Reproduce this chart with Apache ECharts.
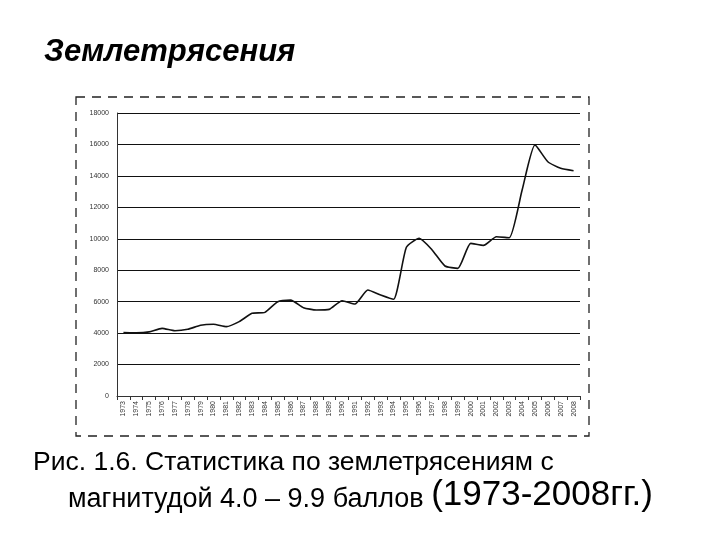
<!DOCTYPE html>
<html><head><meta charset="utf-8">
<script src="https://cdn.jsdelivr.net/npm/echarts@6/dist/echarts.min.js"></script>
<style>html,body{margin:0;padding:0;background:#fff}#c{width:720px;height:540px}</style>
</head><body><div id="c"></div>
<script>
const years = ['1973','1974','1975','1976','1977','1978','1979','1980','1981','1982','1983','1984','1985','1986','1987','1988','1989','1990','1991','1992','1993','1994','1995','1996','1997','1998','1999','2000','2001','2002','2003','2004','2005','2006','2007','2008'];
const quakes = [4030,4020,4080,4300,4150,4240,4500,4560,4410,4730,5260,5320,6000,6100,5620,5470,5510,6060,5850,6740,6420,6150,9460,10030,9290,8270,8120,9710,9580,10130,10070,13100,15970,14900,14480,14330];
const yTicks = [0,2000,4000,6000,8000,10000,12000,14000,16000,18000];

const chart = echarts.init(document.getElementById('c'), null, {renderer:'canvas'});
chart.setOption({
  backgroundColor:'#fff',
  animation:false,
  grid:{left:117,right:140,top:113,bottom:144},
  xAxis:{type:'category',data:years,boundaryGap:true,
    axisLine:{lineStyle:{color:'#333',width:1}},
    axisTick:{show:true,length:4,lineStyle:{color:'#333'}},
    axisLabel:{rotate:90,fontSize:7,color:'#333',fontFamily:'Liberation Sans',margin:5}},
  yAxis:{type:'value',min:yTicks[0],max:yTicks[yTicks.length-1],interval:2000,
    axisLine:{show:true,lineStyle:{color:'#333',width:1}},
    axisTick:{show:false},
    axisLabel:{fontSize:7,color:'#333',fontFamily:'Liberation Sans',margin:8,formatter:function(v){return String(v);}},
    splitLine:{lineStyle:{color:'#111',width:1}}},
  series:[{type:'line',data:quakes,smooth:0.18,symbol:'none',lineStyle:{color:'#111',width:1.6}}],
  graphic:[
    {type:'rect',shape:{x:76,y:97,width:513,height:339},style:{fill:'none',stroke:'#222',lineWidth:1.3,lineDash:[9,7]}},
    {type:'text',left:44,top:37,style:{text:'Землетрясения',font:'italic bold 31px "Liberation Sans", Arial',fill:'#000'}},
    {type:'text',left:33,top:449,style:{text:'Рис. 1.6. Статистика по землетрясениям с',font:'26.5px "Liberation Sans", Arial',fill:'#000'}},
    {type:'text',left:68,top:478,style:{
      text:'{a|магнитудой 4.0 – 9.9 баллов }{b|(1973-2008гг.)}',
      rich:{a:{fontSize:27,fontFamily:'"Liberation Sans", Arial',fill:'#000',verticalAlign:'bottom'},
            b:{fontSize:35,fontFamily:'"Liberation Sans", Arial',fill:'#000',verticalAlign:'bottom'}}}}
  ]
});
</script></body></html>
